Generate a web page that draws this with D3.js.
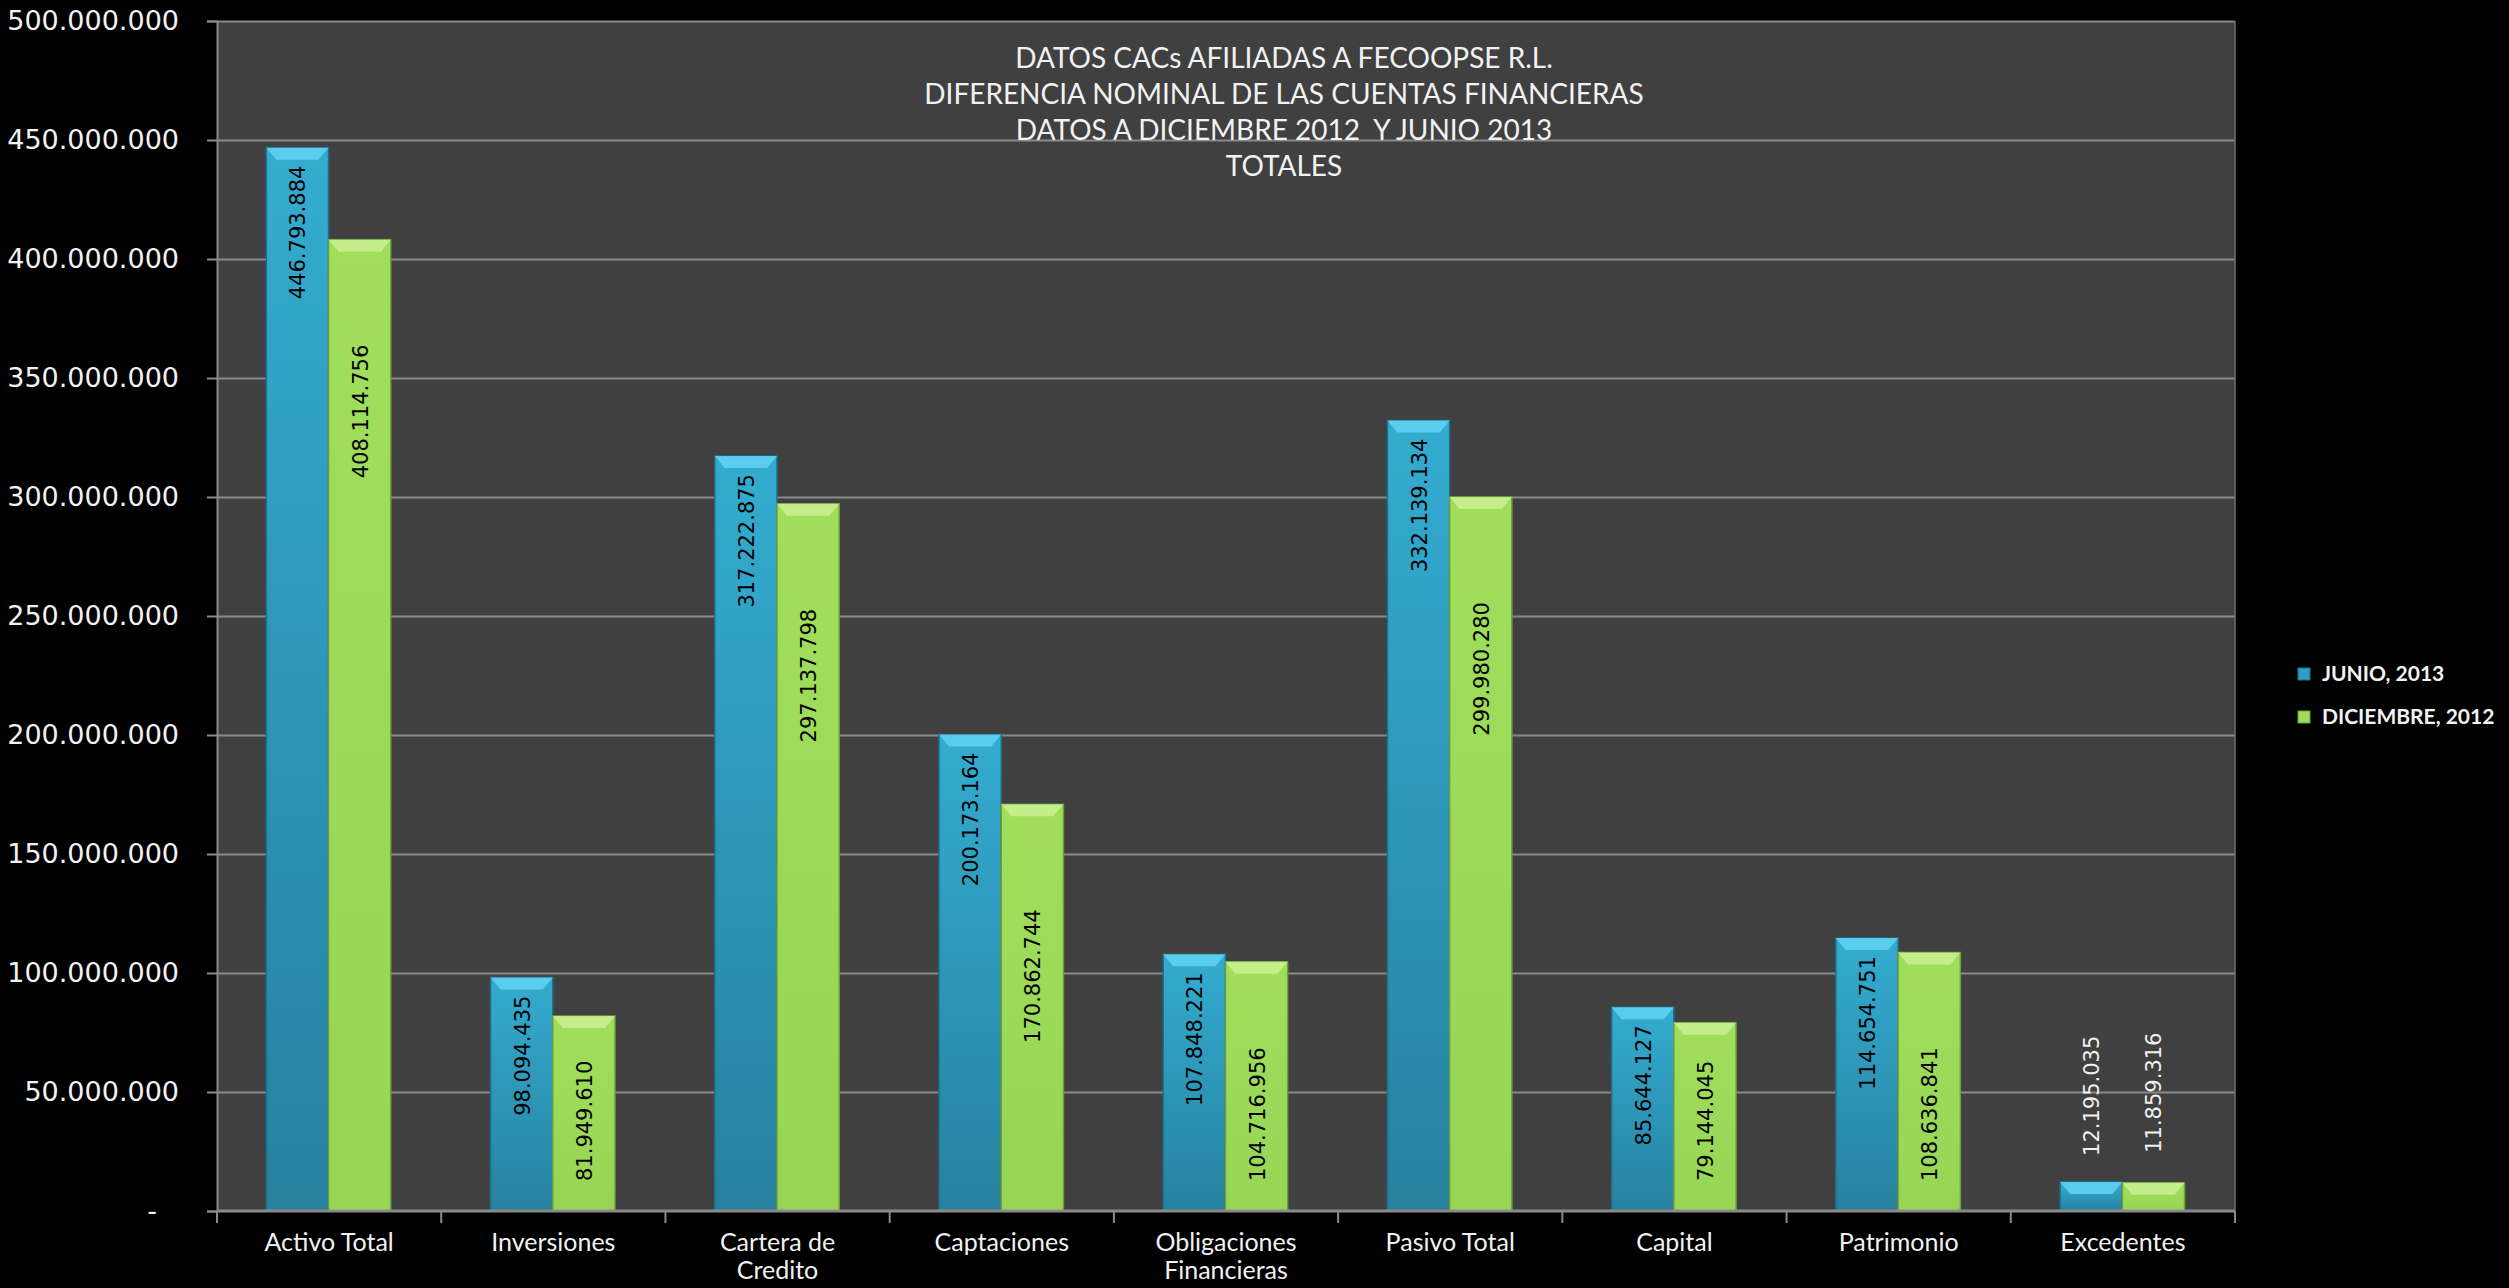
<!DOCTYPE html>
<html>
<head>
<meta charset="utf-8">
<script src="https://cdn.jsdelivr.net/npm/d3@7"></script>
<style>
  body { margin: 0; background: #000; }
  svg { display: block; }
</style>
</head>
<body>
<div id="chart"></div>
<script>
// data
const categories = ["Activo Total", "Inversiones", "Cartera de\nCredito", "Captaciones",
  "Obligaciones\nFinancieras", "Pasivo Total", "Capital", "Patrimonio", "Excedentes"];
const seriesNames = ["JUNIO, 2013", "DICIEMBRE, 2012"];
const junio2013 = [446793884, 98094435, 317222875, 200173164, 107848221, 332139134, 85644127, 114654751, 12195035];
const diciembre2012 = [408114756, 81949610, 297137798, 170862744, 104716956, 299980280, 79144045, 108636841, 11859316];
const yTicks = [0, 50000000, 100000000, 150000000, 200000000, 250000000, 300000000, 350000000, 400000000, 450000000, 500000000];
const titleLines = ["DATOS CACs AFILIADAS A FECOOPSE R.L.", "DIFERENCIA NOMINAL DE LAS CUENTAS FINANCIERAS",
  "DATOS A DICIEMBRE 2012  Y JUNIO 2013", "TOTALES"];

const width = 2509, height = 1288;
const plot = { left: 217, top: 21, right: 2235, bottom: 1211 };

const es = d3.formatLocale({ decimal: ",", thousands: ".", grouping: [3], currency: ["", ""] });
const fmt = es.format(",d");

const svg = d3.select('#chart')
  .append('svg')
  .attr('width', width)
  .attr('height', height);

svg.append('rect').attr('width', width).attr('height', height).attr('fill', '#000');

const defs = svg.append('defs');

// bar fills
const blueGrad = defs.append('linearGradient').attr('id', 'gBlue')
  .attr('x1', 0).attr('x2', 0).attr('y1', 0).attr('y2', 1);
blueGrad.append('stop').attr('offset', '0%').attr('stop-color', '#33acd0');
blueGrad.append('stop').attr('offset', '100%').attr('stop-color', '#27819f');

const greenGrad = defs.append('linearGradient').attr('id', 'gGreen')
  .attr('x1', 0).attr('x2', 0).attr('y1', 0).attr('y2', 1);
greenGrad.append('stop').attr('offset', '0%').attr('stop-color', '#a0de5c');
greenGrad.append('stop').attr('offset', '100%').attr('stop-color', '#97d655');

defs.append('clipPath').attr('id', 'plotClip')
  .append('rect')
  .attr('x', plot.left).attr('y', plot.top)
  .attr('width', plot.right - plot.left).attr('height', plot.bottom - plot.top);

const seriesStyle = [
  { fill: 'url(#gBlue)', stroke: '#1e6f8c', bevel: '#5fd2f2', key: '#2d9fc2' },
  { fill: 'url(#gGreen)', stroke: '#6f9e3c', bevel: '#c6f08f', key: '#9ddc5a' }
];

const data = categories.map((c, i) => ({ cat: c, values: [junio2013[i], diciembre2012[i]] }));

const x0 = d3.scaleBand()
  .domain(categories)
  .range([plot.left, plot.right]);

const bw = x0.bandwidth();
const x1 = d3.scaleBand()
  .domain([0, 1])
  .range([bw * 0.22, bw * 0.775]);

const y = d3.scaleLinear()
  .domain([0, 500000000])
  .range([plot.bottom, plot.top]);

// plot background
svg.append('rect')
  .attr('x', plot.left).attr('y', plot.top)
  .attr('width', plot.right - plot.left).attr('height', plot.bottom - plot.top)
  .attr('fill', '#404040');

// gridlines
svg.append('g')
  .attr('transform', 'translate(' + plot.left + ',0)')
  .call(d3.axisLeft(y).tickValues(yTicks.slice(1)).tickSize(-(plot.right - plot.left)).tickFormat(''))
  .call(g => g.select('.domain').remove())
  .selectAll('line')
  .attr('stroke', '#8a8a8a')
  .attr('stroke-width', 2);

// right border of plot
svg.append('line')
  .attr('x1', plot.right).attr('x2', plot.right)
  .attr('y1', plot.top).attr('y2', plot.bottom)
  .attr('stroke', '#6e6e6e').attr('stroke-width', 1.5);

// y axis
const yAxis = svg.append('g')
  .attr('transform', 'translate(' + plot.left + ',0)')
  .call(d3.axisLeft(y).tickValues(yTicks).tickSize(10).tickPadding(28)
    .tickFormat(d => d === 0 ? '-' : fmt(d)));
yAxis.select('.domain').attr('stroke', '#8a8a8a').attr('stroke-width', 2);
yAxis.selectAll('line').attr('stroke', '#8a8a8a').attr('stroke-width', 2);
yAxis.selectAll('text')
  .attr('fill', '#f2f2f2')
  .style('font-family', 'DejaVu Sans')
  .style('font-size', '27px');
yAxis.selectAll('.tick')
  .filter(d => d === 0)
  .select('text')
  .attr('x', -60);

// bars
const groups = svg.append('g')
  .attr('clip-path', 'url(#plotClip)')
  .selectAll('g.cat')
  .data(data)
  .enter()
  .append('g')
  .attr('class', 'cat')
  .attr('transform', d => 'translate(' + x0(d.cat) + ',0)');

const bars = groups.selectAll('g.bar')
  .data(d => d.values.map((v, s) => ({ v: v, s: s })))
  .enter()
  .append('g')
  .attr('class', 'bar');

bars.append('rect')
  .attr('x', d => x1(d.s))
  .attr('y', d => y(d.v))
  .attr('width', x1.bandwidth())
  .attr('height', d => y(0) - y(d.v))
  .attr('fill', d => seriesStyle[d.s].fill)
  .attr('stroke', d => seriesStyle[d.s].stroke)
  .attr('stroke-width', 1.5);

// top bevel
bars.append('path')
  .attr('d', d => {
    const xl = x1(d.s), xr = xl + x1.bandwidth(), yt = y(d.v), h = 12, ins = 10;
    return 'M' + xl + ',' + yt + 'L' + xr + ',' + yt + 'L' + (xr - ins) + ',' + (yt + h) +
      'L' + (xl + ins) + ',' + (yt + h) + 'Z';
  })
  .attr('fill', d => seriesStyle[d.s].bevel)
  .attr('opacity', 0.9);

// bar labels, rotated; inside the bar when it is tall enough, above it otherwise
const labelOffset = [18, 105];
const isInside = d => (y(0) - y(d.v)) > 150;
const labels = bars.append('text')
  .attr('fill', d => isInside(d) ? '#000' : '#f0f0f0')
  .attr('text-anchor', d => isInside(d) ? 'end' : 'start')
  .style('font-family', 'DejaVu Sans')
  .style('font-size', '21px')
  .text(d => fmt(d.v));

labels.attr('transform', function (d) {
  const cx = x1(d.s) + x1.bandwidth() / 2;
  let yy;
  if (isInside(d)) {
    const len = this.getComputedTextLength();
    yy = Math.min(y(d.v) + labelOffset[d.s], y(0) - 30 - len);
    yy = Math.max(yy, y(d.v) + labelOffset[0]);
  } else {
    yy = y(d.v) - 26 - d.s * 4;
  }
  return 'translate(' + (cx + 8) + ',' + yy + ') rotate(-90)';
});

// bottom axis line and ticks at category boundaries
svg.append('line')
  .attr('x1', plot.left).attr('x2', plot.right)
  .attr('y1', plot.bottom).attr('y2', plot.bottom)
  .attr('stroke', '#8a8a8a').attr('stroke-width', 3);

svg.append('g')
  .selectAll('line')
  .data(categories.map(c => x0(c)).concat([plot.right]))
  .enter()
  .append('line')
  .attr('x1', d => d).attr('x2', d => d)
  .attr('y1', plot.bottom).attr('y2', plot.bottom + 12)
  .attr('stroke', '#8a8a8a').attr('stroke-width', 2);

// category labels
svg.append('g')
  .selectAll('text')
  .data(categories)
  .enter()
  .append('text')
  .attr('x', d => x0(d) + bw / 2)
  .attr('y', 1251)
  .attr('text-anchor', 'middle')
  .attr('fill', '#f2f2f2')
  .style('font-family', 'Lato')
  .style('font-size', '25px')
  .each(function (d) {
    const lines = d.split('\n');
    d3.select(this).selectAll('tspan')
      .data(lines)
      .enter()
      .append('tspan')
      .attr('x', x0(d) + bw / 2)
      .attr('dy', (l, i) => i === 0 ? 0 : 28)
      .text(l => l);
  });

// title
svg.append('g')
  .selectAll('text')
  .data(titleLines)
  .enter()
  .append('text')
  .attr('x', 1284)
  .attr('y', (d, i) => 68 + i * 36)
  .attr('text-anchor', 'middle')
  .attr('fill', '#f2f2f2')
  .style('font-family', 'Lato')
  .style('font-size', '28px')
  .style('white-space', 'pre')
  .text(d => d);

// legend
const legend = svg.append('g')
  .selectAll('g')
  .data(seriesNames)
  .enter()
  .append('g')
  .attr('transform', (d, i) => 'translate(2298,' + (668 + i * 43) + ')');

legend.append('rect')
  .attr('width', 12).attr('height', 12)
  .attr('fill', (d, i) => seriesStyle[i].key)
  .attr('stroke', (d, i) => seriesStyle[i].stroke);

legend.append('text')
  .attr('x', 24)
  .attr('y', 13)
  .attr('fill', '#f2f2f2')
  .style('font-family', 'Lato')
  .style('font-weight', 'bold')
  .style('font-size', '21px')
  .text(d => d);
</script>
</body>
</html>
